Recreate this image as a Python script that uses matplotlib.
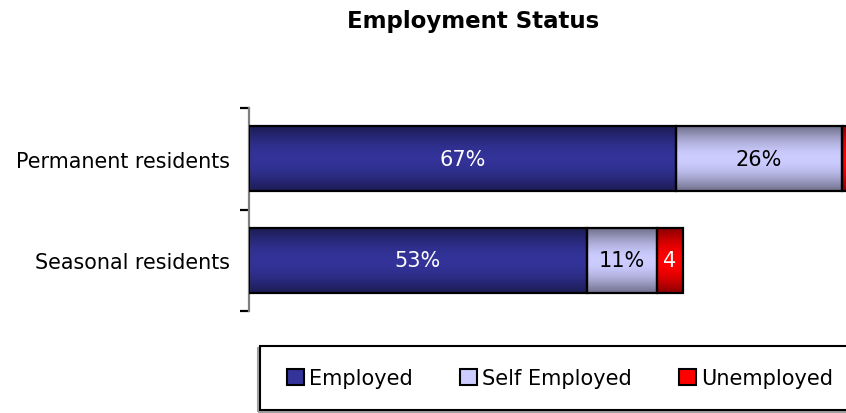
import numpy as np
import matplotlib
matplotlib.use("Agg")
import matplotlib.pyplot as plt
from matplotlib.patches import Rectangle, Patch
from matplotlib.colors import to_rgb

# ---- data ----
categories = ["Permanent residents", "Seasonal residents"]
series_names = ["Employed", "Self Employed", "Unemployed"]
employed = [67, 53]
self_employed = [26, 11]
unemployed = [7, 4]
series_values = [employed, self_employed, unemployed]
series_colors = ["#333399", "#ccccff", "#ff0000"]
label_colors = ["white", "black", "white"]
title = "Employment Status"

W, H = 846, 414
fig = plt.figure(figsize=(W / 100, H / 100), dpi=100)
plt.rcParams["font.family"] = ["DejaVu Sans"]

ax_left = 249 / W
ax_right = 1.0
ax_top = 1 - 109 / H
ax_bot = 1 - 312 / H
ax = fig.add_axes([ax_left, ax_bot, ax_right - ax_left, ax_top - ax_bot])

px_per_pct = 6.375
xmax = (W - 249) / px_per_pct

bar_h = 0.64
ypos = np.arange(len(categories))
left = np.zeros(len(categories))

t = np.linspace(0, 1, 64)
profile = 0.55 + 0.45 * np.sin(np.pi * t)

for vals, col, lcol in zip(series_values, series_colors, label_colors):
    bars = ax.barh(ypos, vals, left=left, height=bar_h, facecolor="none",
                   edgecolor="black", linewidth=1.6, zorder=3)
    base = np.array(to_rgb(col))
    grad = (profile[:, None] * base[None, :])[:, None, :]
    for b, v, l in zip(bars, vals, left):
        x0, y0 = b.get_x(), b.get_y()
        w, h = b.get_width(), b.get_height()
        im = ax.imshow(grad, extent=(x0, x0 + w, y0 + h, y0), aspect="auto",
                       interpolation="bilinear", zorder=2)
        im.set_clip_path(b)
        cx = l + v / 2
        if cx < xmax:
            txt = f"{v}%" if v >= 5 else f"{v}"
            ax.text(cx, b.get_y() + h / 2, txt, ha="center", va="center",
                    color=lcol, fontsize=15, zorder=4)
    left = left + np.array(vals)

ax.set_xlim(0, xmax)
ax.set_ylim(len(categories) - 0.5, -0.5)

for s in ["top", "right", "bottom"]:
    ax.spines[s].set_visible(False)
ax.spines["left"].set_color("#808080")
ax.spines["left"].set_linewidth(1.6)
ax.set_xticks([])
ax.set_yticks(np.arange(len(categories) + 1) - 0.5)
ax.set_yticklabels([])
ax.tick_params(axis="y", which="major", length=6.5, width=1.6, color="black",
               direction="out")
ax.set_yticks(ypos, minor=True)
ax.set_yticklabels(categories, minor=True, fontsize=14.9)
ax.tick_params(axis="y", which="minor", length=0, pad=14)

fig.text(473 / W, 1 - 21.5 / H, title, ha="center", va="center",
         fontsize=16.5, fontweight="bold")

# legend frame
lx0, ly_top, ly_bot = 260 / W, 347 / H, 411 / H
shadow = Rectangle((lx0 - 2 / W, 1 - ly_bot - 2 / H), 1.2, ly_bot - ly_top,
                   transform=fig.transFigure, facecolor="none",
                   edgecolor="#a0a0a0", linewidth=1.5)
frame = Rectangle((lx0, 1 - ly_bot), 1.2, ly_bot - ly_top,
                  transform=fig.transFigure, facecolor="white",
                  edgecolor="black", linewidth=1.5)
fig.patches.extend([shadow, frame])

handles = [Patch(facecolor=c, edgecolor="black", linewidth=1.5)
           for c in series_colors]
fig.legend(handles, series_names, loc="center left",
           bbox_to_anchor=(287 / W, 1 - 379 / H), ncol=3, frameon=False,
           fontsize=15, handlelength=0.82, handleheight=0.82,
           handletextpad=0.25, columnspacing=2.25, borderpad=0,
           borderaxespad=0)

fig.savefig("out.png", dpi=100)
